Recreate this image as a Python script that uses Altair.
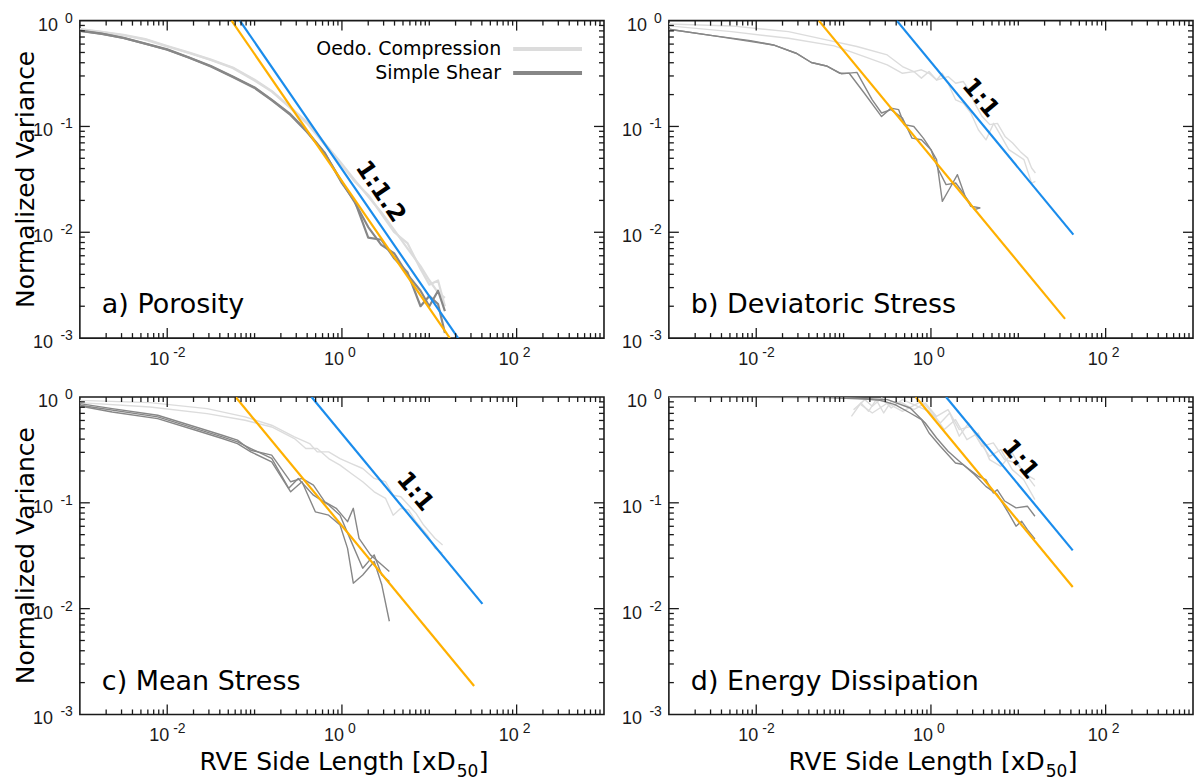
import altair as alt
import pandas as pd

# ---------------------------------------------------------------
# Normalized variance of four field quantities vs. RVE side length
# (oedometric compression vs. simple shear), log-log, 2x2 panels
# ---------------------------------------------------------------

# a) Porosity -- all runs sampled on a common RVE-size grid
por_x = [0.001, 0.00178, 0.00316, 0.00562, 0.01, 0.0178, 0.0316, 0.0562, 0.1, 0.158,
         0.251, 0.398, 0.631, 1.0, 1.41, 2.0, 2.82, 3.98, 5.62, 7.94, 10.0, 12.6, 15.1]
por_oedo_1 = [0.830, 0.785, 0.733, 0.668, 0.575, 0.498, 0.428, 0.361, 0.276, 0.216,
              0.155, 0.110, 0.0698, 0.0441, 0.0309, 0.0218, 0.0155, 0.0105, 0.00705,
              0.00479, 0.00352, 0.00269, 0.0024]
por_oedo_2 = [0.825, 0.780, 0.728, 0.662, 0.570, 0.494, 0.424, 0.357, 0.272, 0.213,
              0.152, 0.107, 0.0680, 0.0430, 0.0300, 0.0225, 0.0150, 0.0100, 0.0079,
              0.0045, 0.0032, 0.0035, 0.0020]
por_shear_1 = [0.805, 0.754, 0.687, 0.607, 0.535, 0.449, 0.372, 0.297, 0.234, 0.178,
               0.133, 0.090, 0.0569, 0.0291, 0.0195, 0.0089, 0.0085, 0.00565, 0.0042,
               0.0020, 0.0025, 0.0021, 0.00112]
por_shear_2 = [0.800, 0.750, 0.685, 0.604, 0.530, 0.446, 0.368, 0.293, 0.231, 0.176,
               0.131, 0.0885, 0.0560, 0.0300, 0.0190, 0.0112, 0.0076, 0.0063, 0.0040,
               0.0028, 0.0020, 0.0028, 0.0018]
por_blue_x, por_blue_y = [0.0678, 21.4], [1.0, 0.001]
por_orange_x, por_orange_y = [0.0545, 17.2], [1.0, 0.001]

# b) Deviatoric stress
dev_oedo_1_x = [0.001, 0.00521, 0.0234, 0.0637, 0.142, 0.316, 0.472, 0.637, 0.778, 0.951,
                1.16, 1.57, 1.92, 2.34, 2.72, 3.16, 3.86, 4.72, 5.77, 7.05, 8.61, 10.5,
                12.8, 14.2, 15.7]
dev_oedo_1_y = [0.93, 0.891, 0.787, 0.657, 0.569, 0.474, 0.368, 0.330, 0.343, 0.318,
                0.275, 0.296, 0.256, 0.266, 0.222, 0.166, 0.124, 0.104, 0.107, 0.0805,
                0.0697, 0.0581, 0.0502, 0.0405, 0.0363]
dev_oedo_2_x = [0.001, 0.00521, 0.0234, 0.0781, 0.173, 0.316, 0.472, 0.637, 0.778, 0.951,
                1.16, 1.35, 1.57, 1.92, 2.34, 2.86, 3.49, 4.27, 5.22, 6.38, 7.79, 9.52,
                11.6, 14.2, 15.7]
dev_oedo_2_y = [0.891, 0.787, 0.681, 0.577, 0.457, 0.382, 0.318, 0.330, 0.286, 0.330,
                0.275, 0.318, 0.256, 0.178, 0.166, 0.134, 0.0931, 0.0747, 0.107, 0.0805,
                0.0604, 0.0541, 0.0486, 0.0291, 0.0302]
dev_shear_1_x = [0.001, 0.00316, 0.00861, 0.0157, 0.0286, 0.0427, 0.0637, 0.0906, 0.116,
                 0.173, 0.272, 0.349, 0.427, 0.497, 0.637, 0.818, 1.0, 1.16, 1.35, 1.65,
                 2.01, 2.46, 3.16, 3.67]
dev_shear_1_y = [0.828, 0.721, 0.647, 0.589, 0.492, 0.402, 0.373, 0.318, 0.318, 0.206,
                 0.124, 0.149, 0.144, 0.104, 0.100, 0.0776, 0.0603, 0.0485, 0.0196,
                 0.0262, 0.035, 0.0219, 0.0164, 0.017]
dev_shear_2_x = [0.001, 0.00316, 0.0157, 0.0286, 0.0427, 0.0637, 0.095, 0.142, 0.212,
                 0.272, 0.349, 0.472, 0.607, 0.778, 1.0, 1.22, 1.49, 1.92, 2.34, 2.86, 3.67]
dev_shear_2_y = [0.828, 0.721, 0.589, 0.492, 0.402, 0.373, 0.314, 0.324, 0.179, 0.134,
                 0.144, 0.12, 0.0776, 0.0748, 0.0603, 0.039, 0.0282, 0.0292, 0.0235,
                 0.0176, 0.017]
dev_blue_x, dev_blue_y = [0.406, 42.7], [1.0, 0.0095]
dev_orange_x, dev_orange_y = [0.052, 34.3], [1.0, 0.00152]

# c) Mean stress
mean_oedo_1_x = [0.001, 0.00637, 0.0286, 0.0778, 0.157, 0.286, 0.427, 0.521, 0.705, 0.951,
                 1.28, 1.73, 2.34, 3.16, 3.86, 4.72, 5.77, 7.05, 8.61, 11.6, 14.2]
mean_oedo_1_y = [0.930, 0.885, 0.776, 0.648, 0.541, 0.420, 0.363, 0.303, 0.303, 0.262,
                 0.235, 0.211, 0.170, 0.158, 0.118, 0.114, 0.0953, 0.0795, 0.0617,
                 0.0462, 0.040]
mean_oedo_2_x = [0.001, 0.00637, 0.0286, 0.0778, 0.157, 0.286, 0.386, 0.521, 0.705, 0.951,
                 1.28, 1.73, 2.34, 3.16, 3.86, 4.72, 5.77, 7.05, 9.52, 11.6, 14.2]
mean_oedo_2_y = [0.885, 0.805, 0.696, 0.603, 0.521, 0.405, 0.326, 0.326, 0.262, 0.227,
                 0.189, 0.158, 0.127, 0.110, 0.0764, 0.0887, 0.0856, 0.0664, 0.0497,
                 0.0372, 0.0334]
mean_shear_1_x = [0.001, 0.00234, 0.00778, 0.0212, 0.0427, 0.0637, 0.0906, 0.157, 0.259,
                  0.349, 0.472, 0.637, 0.861, 1.16, 1.35, 1.57, 2.12, 2.59, 3.49]
mean_shear_1_y = [0.865, 0.776, 0.672, 0.521, 0.435, 0.391, 0.314, 0.282, 0.158, 0.170,
                  0.147, 0.102, 0.0887, 0.0664, 0.0887, 0.0462, 0.0322, 0.0279, 0.0224]
mean_shear_2_x = [0.001, 0.00234, 0.00778, 0.0212, 0.0427, 0.0637, 0.0906, 0.157, 0.259,
                  0.349, 0.496, 0.705, 0.951, 1.16, 1.35, 1.73, 2.34, 2.86, 3.49]
mean_shear_2_y = [0.823, 0.722, 0.625, 0.485, 0.405, 0.363, 0.303, 0.244, 0.127, 0.158,
                  0.0822, 0.0764, 0.0617, 0.0371, 0.0174, 0.0208, 0.0279, 0.0168, 0.0076]
mean_shear_3_x = [0.001, 0.00778, 0.0212, 0.0427, 0.0637, 0.0906, 0.157, 0.246, 0.316,
                  0.472, 0.705, 0.951, 1.28, 1.73, 2.34, 2.86, 3.49]
mean_shear_3_y = [0.835, 0.648, 0.503, 0.420, 0.377, 0.326, 0.263, 0.137, 0.170, 0.118,
                  0.0953, 0.0764, 0.0430, 0.0241, 0.0322, 0.0208, 0.0180]
mean_blue_x, mean_blue_y = [0.449, 40.6], [1.0, 0.0111]
mean_orange_x, mean_orange_y = [0.0607, 32.6], [1.0, 0.00186]

# d) Energy dissipation
en_oedo_1_x = [0.123, 0.158, 0.193, 0.236, 0.288, 0.351, 0.473, 0.638, 0.861, 1.16, 1.57,
               2.11, 2.85, 3.84, 5.18, 6.98, 9.42, 12.7, 15.5]
en_oedo_1_y = [0.656, 0.877, 0.733, 0.944, 0.706, 0.910, 0.877, 0.759, 0.877, 0.656, 0.759,
               0.492, 0.528, 0.342, 0.368, 0.256, 0.238, 0.178, 0.143]
en_oedo_2_x = [0.130, 0.175, 0.213, 0.274, 0.351, 0.473, 0.705, 0.951, 1.28, 1.64, 2.11,
               2.71, 3.48, 4.69, 6.32, 8.53, 11.5, 15.5]
en_oedo_2_y = [0.759, 0.944, 0.817, 0.979, 0.787, 0.944, 0.817, 0.733, 0.568, 0.706, 0.426,
               0.568, 0.395, 0.275, 0.318, 0.206, 0.166, 0.107]
en_oedo_3_x = [0.158, 0.213, 0.318, 0.473, 0.780, 1.05, 1.42, 1.91, 2.58, 3.48, 4.69, 6.32,
               8.53, 11.5, 15.5]
en_oedo_3_y = [0.847, 0.706, 0.877, 0.733, 0.910, 0.706, 0.492, 0.611, 0.395, 0.457, 0.256,
               0.221, 0.296, 0.191, 0.166]
en_shear_1_x = [0.001, 0.00879, 0.0646, 0.175, 0.261, 0.388, 0.578, 0.780, 0.951, 1.28,
                1.91, 2.33, 3.48, 4.25, 5.18, 5.73, 6.98, 9.42, 12.7, 15.5]
en_shear_1_y = [0.993, 0.993, 0.986, 0.957, 0.931, 0.847, 0.706, 0.611, 0.457, 0.342,
                0.238, 0.230, 0.178, 0.166, 0.124, 0.133, 0.104, 0.0895, 0.0929, 0.0746]
en_shear_2_x = [0.001, 0.0646, 0.318, 0.578, 0.861, 1.16, 1.57, 2.11, 3.15, 4.25, 5.73,
                7.71, 9.42, 10.9, 12.7, 15.5]
en_shear_2_y = [1.0, 1.0, 0.944, 0.787, 0.568, 0.410, 0.307, 0.247, 0.185, 0.143, 0.120,
                0.0804, 0.0601, 0.067, 0.0558, 0.0456]
en_blue_x, en_blue_y = [1.49, 42.0], [1.0, 0.0355]
en_orange_x, en_orange_y = [0.671, 42.0], [1.0, 0.016]

# axis tick labels (powers of ten)
x_label_vals = [0.01, 1.0, 100.0]
x_label_exps = ["-2", "0", "2"]
y_label_vals = [1.0, 0.1, 0.01, 0.001]
y_label_exps = ["0", "-1", "-2", "-3"]

# ---------------------------------------------------------------
# styling / layout
# ---------------------------------------------------------------
W, H = 525, 318
LIGHT = "#dcdcdc"
DARK = "#878787"
BLUE = "#1a8cec"
ORANGE = "#ffb000"
INK = "#1a1a1a"
TITLE_FONT = "DejaVu Sans"
TICK_FONT = "Liberation Sans"

XS = alt.Scale(type="log", domain=[1e-3, 1e3], nice=False)
YS = alt.Scale(type="log", domain=[1e-3, 1.0], nice=False)

# tick positions on the log axes (2..9 x 10^n minor ticks)
x_major = [0.01, 1.0, 100.0]
x_minor = [round(k * 10.0 ** n, 8) for n in range(-3, 3) for k in range(1, 10)]
x_minor = [v for v in x_minor if v not in x_major and 1e-3 < v < 1e3]
y_major = [0.01, 0.1]
y_minor = [round(k * 10.0 ** n, 8) for n in range(-3, 0) for k in range(2, 10)]

ONE = pd.DataFrame({"k": [0]})


def X(field="x"):
    return alt.X(f"{field}:Q", scale=XS, axis=None)


def Y(field="y"):
    return alt.Y(f"{field}:Q", scale=YS, axis=None)


def curve_layer(series, color, width):
    rows = []
    for sid, (xs, ys) in enumerate(series):
        for i, (xv, yv) in enumerate(zip(xs, ys)):
            rows.append({"x": xv, "y": yv, "sid": sid, "i": i})
    return alt.Chart(pd.DataFrame(rows)).mark_line(
        color=color, strokeWidth=width, clip=True, strokeJoin="round"
    ).encode(x=X(), y=Y(), detail="sid:N", order="i:Q")


def fit_layer(xs, ys, color):
    return alt.Chart(pd.DataFrame({"x": xs, "y": ys})).mark_line(
        color=color, strokeWidth=2.2, clip=True
    ).encode(x=X(), y=Y())


def tick_layers():
    """Inward-pointing ticks on all four sides of the box."""
    layers = []
    for vals, length in ((x_major, 10), (x_minor, 5)):
        df = pd.DataFrame({"v": vals})
        for y0, y1 in ((H, H - length), (0, length)):
            layers.append(alt.Chart(df).mark_rule(color=INK, strokeWidth=1.3).encode(
                x=X("v"), y=alt.value(y0), y2=alt.value(y1)))
    for vals, length in ((y_major, 10), (y_minor, 5)):
        df = pd.DataFrame({"v": vals})
        for x0, x1 in ((0, length), (W, W - length)):
            layers.append(alt.Chart(df).mark_rule(color=INK, strokeWidth=1.3).encode(
                y=Y("v"), x=alt.value(x0), x2=alt.value(x1)))
    return layers


def tick_label_layers():
    layers = []
    xdf = pd.DataFrame({"v": x_label_vals, "e": x_label_exps})
    layers.append(alt.Chart(xdf).mark_text(
        text="10", align="right", baseline="alphabetic", dx=2, dy=27,
        font=TICK_FONT, fontSize=18, color=INK
    ).encode(x=X("v"), y=alt.value(H)))
    layers.append(alt.Chart(xdf).mark_text(
        align="left", baseline="alphabetic", dx=6, dy=19,
        font=TICK_FONT, fontSize=14, color=INK
    ).encode(x=X("v"), y=alt.value(H), text="e:N"))

    ydf = pd.DataFrame({"v": y_label_vals, "e": y_label_exps})
    neg = ydf[ydf["e"] != "0"]
    zero = ydf[ydf["e"] == "0"]
    for df, base_x in ((neg, -27), (zero, -22)):
        layers.append(alt.Chart(df).mark_text(
            text="10", align="right", baseline="alphabetic", dy=10,
            font=TICK_FONT, fontSize=18, color=INK
        ).encode(x=alt.value(base_x), y=Y("v")))
    layers.append(alt.Chart(ydf).mark_text(
        align="right", baseline="alphabetic", dy=2,
        font=TICK_FONT, fontSize=14, color=INK
    ).encode(x=alt.value(-7), y=Y("v"), text="e:N"))
    return layers


def label_text(text, xpix, ypix, **kw):
    return alt.Chart(ONE).mark_text(text=text, **kw).encode(
        x=alt.value(xpix), y=alt.value(ypix))


def panel(oedo, shear, blue, orange, name, slope_text, slope_xy, slope_angle,
          left=False, bottom=False, legend=False, curve_width=1.4):
    layers = [
        curve_layer(oedo, LIGHT, curve_width),
        curve_layer(shear, DARK, curve_width),
        fit_layer(*blue, BLUE),
        fit_layer(*orange, ORANGE),
    ]
    layers += tick_layers()
    layers += tick_label_layers()
    layers.append(alt.Chart(pd.DataFrame({"x": [slope_xy[0]], "y": [slope_xy[1]]})).mark_text(
        text=slope_text, angle=slope_angle, align="center", baseline="middle",
        font=TITLE_FONT, fontSize=24, fontWeight="bold", color="black"
    ).encode(x=X(), y=Y()))
    layers.append(label_text(name, 22, H - 25, align="left", baseline="alphabetic",
                             font=TITLE_FONT, fontSize=27, color="black"))
    if left:
        layers.append(label_text("Normalized Variance", -54, H / 2, angle=270,
                                 align="center", baseline="middle",
                                 font=TITLE_FONT, fontSize=25, color="black"))
    if bottom:
        layers.append(label_text("RVE Side Length [xD", W / 2 + 114, H + 56,
                                 align="right", baseline="alphabetic",
                                 font=TITLE_FONT, fontSize=25, color="black"))
        layers.append(label_text("50", W / 2 + 115, H + 63, align="left",
                                 baseline="alphabetic", font=TITLE_FONT,
                                 fontSize=17, color="black"))
        layers.append(label_text("]", W / 2 + 137, H + 56, align="left",
                                 baseline="alphabetic", font=TITLE_FONT,
                                 fontSize=25, color="black"))
    if legend:
        layers.append(label_text("Oedo. Compression", 422, 28.5, align="right",
                                 baseline="middle", font=TITLE_FONT, fontSize=19,
                                 color="black"))
        layers.append(label_text("Simple Shear", 422, 52.5, align="right",
                                 baseline="middle", font=TITLE_FONT, fontSize=19,
                                 color="black"))
        layers.append(alt.Chart(ONE).mark_rule(color=LIGHT, strokeWidth=4).encode(
            x=alt.value(434), x2=alt.value(503), y=alt.value(28.5)))
        layers.append(alt.Chart(ONE).mark_rule(color=DARK, strokeWidth=4).encode(
            x=alt.value(434), x2=alt.value(503), y=alt.value(52.5)))
    return alt.layer(*layers).properties(width=W, height=H)


chart_a = panel(
    [(por_x, por_oedo_1), (por_x, por_oedo_2)],
    [(por_x, por_shear_1), (por_x, por_shear_2)],
    (por_blue_x, por_blue_y), (por_orange_x, por_orange_y),
    "a) Porosity", "1:1.2", (2.74, 0.0241), 55.6,
    left=True, legend=True, curve_width=2.2)

chart_b = panel(
    [(dev_oedo_1_x, dev_oedo_1_y), (dev_oedo_2_x, dev_oedo_2_y)],
    [(dev_shear_1_x, dev_shear_1_y), (dev_shear_2_x, dev_shear_2_y)],
    (dev_blue_x, dev_blue_y), (dev_orange_x, dev_orange_y),
    "b) Deviatoric Stress", "1:1", (3.67, 0.185), 50.4)

chart_c = panel(
    [(mean_oedo_1_x, mean_oedo_1_y), (mean_oedo_2_x, mean_oedo_2_y)],
    [(mean_shear_1_x, mean_shear_1_y), (mean_shear_2_x, mean_shear_2_y),
     (mean_shear_3_x, mean_shear_3_y)],
    (mean_blue_x, mean_blue_y), (mean_orange_x, mean_orange_y),
    "c) Mean Stress", "1:1", (6.84, 0.127), 50.4,
    left=True, bottom=True)

chart_d = panel(
    [(en_oedo_1_x, en_oedo_1_y), (en_oedo_2_x, en_oedo_2_y), (en_oedo_3_x, en_oedo_3_y)],
    [(en_shear_1_x, en_shear_1_y), (en_shear_2_x, en_shear_2_y)],
    (en_blue_x, en_blue_y), (en_orange_x, en_orange_y),
    "d) Energy Dissipation", "1:1", (10.4, 0.256), 50.4,
    bottom=True)

chart = alt.concat(
    chart_a, chart_b, chart_c, chart_d,
    columns=2,
    spacing=alt.RowColnumber(row=59, column=65),
    bounds="flush",
).properties(
    padding={"left": 13, "top": 10, "right": 0, "bottom": 4},
    background="white",
).configure_view(stroke=INK, strokeWidth=1.6)

chart.save("out.html", embed_options={"renderer": "svg", "actions": False})
